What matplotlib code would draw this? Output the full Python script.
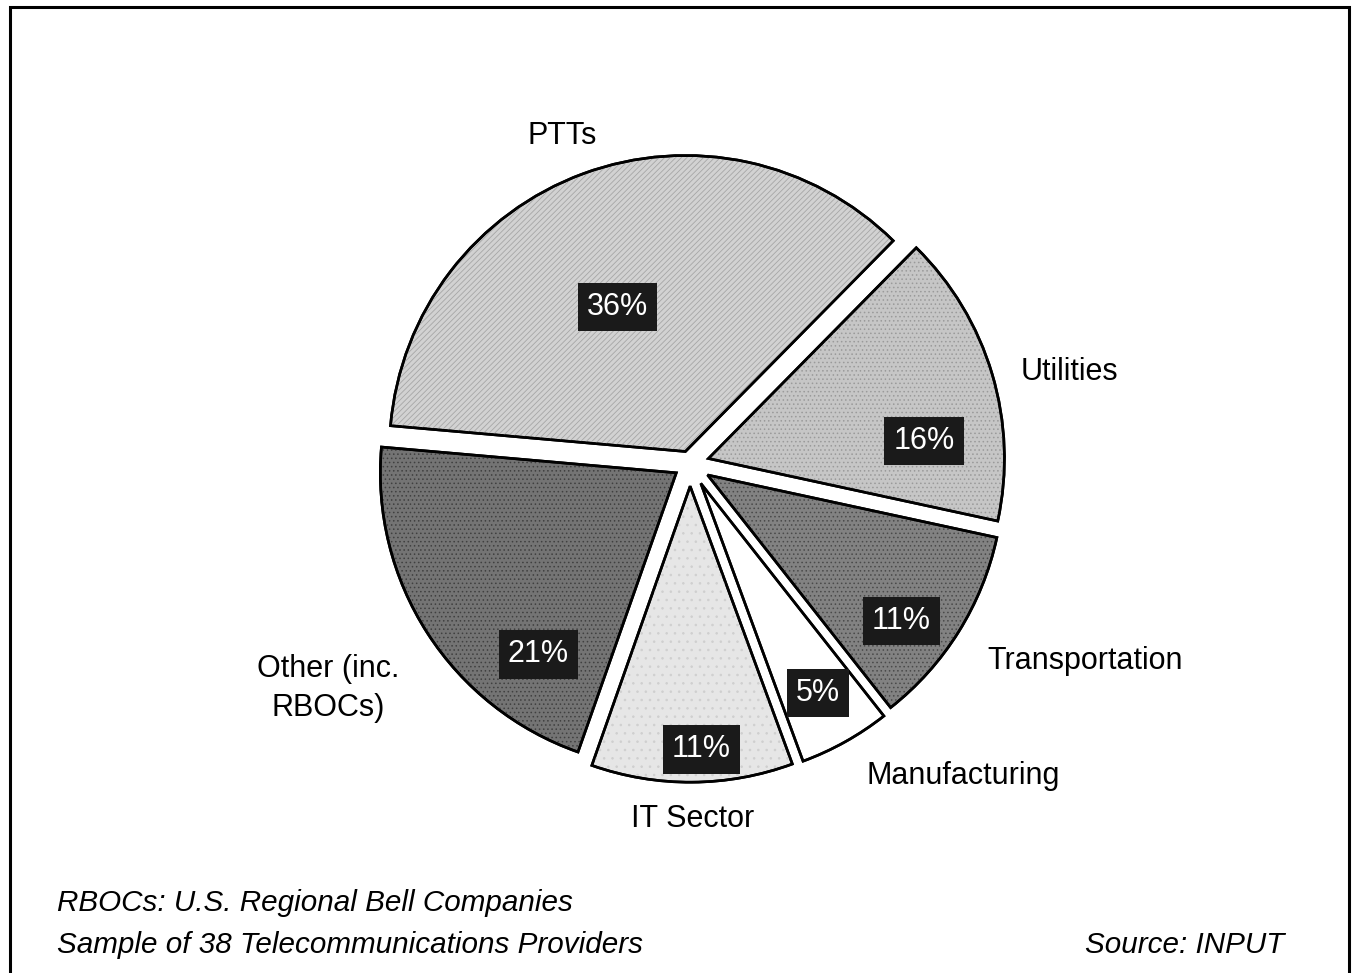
import numpy as np
import matplotlib
matplotlib.use("Agg")
from matplotlib import pyplot as plt
from matplotlib.patches import Wedge, Rectangle

# data (clockwise from PTTs)
labels = ["PTTs", "Utilities", "Transportation", "Manufacturing", "IT Sector", "Other (inc.\nRBOCs)"]
shares = [36, 16, 11, 5, 11, 21]
pct_text = ["36%", "16%", "11%", "5%", "11%", "21%"]

# look of each slice
face = ["#d2d2d2", "#c6c6c6", "#828282", "white", "#e6e6e6", "#747474"]
hatches = ["//////", "....", "....", None, "..", "...."]
hatch_col = ["#a6a6a6", "#9a9a9a", "#4a4a4a", None, "#cfcfcf", "#404040"]
explode = [0.045, 0.065, 0.07, 0.075, 0.075, 0.055]  # fraction of radius
# where the % boxes and the names sit: (fraction of radius, angle shift in deg)
pct_pos = [(0.54, 5), (0.73, -12), (0.82, -5), (0.81, 0), (0.89, 2), (0.77, 20)]
name_pos = [(1.19, 1), (1.32, -3), (1.49, 5.5), (1.40, 12), (1.20, 0), (1.44, -1)]

W, H = 1355, 973
plt.rcParams['font.family'] = ['Liberation Sans', 'DejaVu Sans']
plt.rcParams['hatch.linewidth'] = 0.6

fig = plt.figure(figsize=(W / 100, H / 100), dpi=100)
ax = fig.add_axes([0, 0, 1, 1])

cx, cy, R = 690, H - 464, 296
# pie shifts exploded wedges in data units, so scale by the radius
wedges, _ = ax.pie(shares, explode=[e * R for e in explode], startangle=175, counterclock=False,
                   colors=face, center=(cx, cy), radius=R,
                   wedgeprops={'edgecolor': 'black', 'linewidth': 1.9})
ax.set_xlim(0, W)
ax.set_ylim(0, H)
ax.set_aspect('equal')
ax.axis('off')

for i, w in enumerate(wedges):
    w.set_zorder(1)
    if hatches[i]:
        ax.add_patch(Wedge(w.center, w.r * 0.995, w.theta1, w.theta2, fill=False,
                           hatch=hatches[i], edgecolor=hatch_col[i], linewidth=0, zorder=1.5))
    ax.add_patch(Wedge(w.center, w.r, w.theta1, w.theta2, fill=False,
                       edgecolor='black', linewidth=1.9, zorder=2))
    mid = (w.theta1 + w.theta2) / 2
    f, da = pct_pos[i]
    a = np.radians(mid + da)
    ax.text(w.center[0] + f * R * np.cos(a), w.center[1] + f * R * np.sin(a), pct_text[i],
            color='white', fontsize=22, ha='center', va='center', zorder=3,
            bbox=dict(boxstyle='square,pad=0.3', facecolor='#1a1a1a', edgecolor='none'))
    f, da = name_pos[i]
    a = np.radians(mid + da)
    ax.text(cx + f * R * np.cos(a), cy + f * R * np.sin(a), labels[i],
            fontsize=22, ha='center', va='center', linespacing=1.4, zorder=3)

# footnotes
fig.text(57 / W, 1 - 903 / H, "RBOCs: U.S. Regional Bell Companies",
         fontsize=21.3, style='italic', va='center', ha='left')
fig.text(57 / W, 1 - 945 / H, "Sample of 38 Telecommunications Providers",
         fontsize=21.3, style='italic', va='center', ha='left')
fig.text(1284 / W, 1 - 945 / H, "Source: INPUT",
         fontsize=21.3, style='italic', va='center', ha='right')

# outer frame
fig.patches.append(Rectangle((10 / W, -0.02), (1349 - 10) / W, 1.02 - 7 / H,
                             transform=fig.transFigure, fill=False,
                             edgecolor='black', linewidth=2.2))

fig.savefig("out.png", dpi=100, facecolor='white')
